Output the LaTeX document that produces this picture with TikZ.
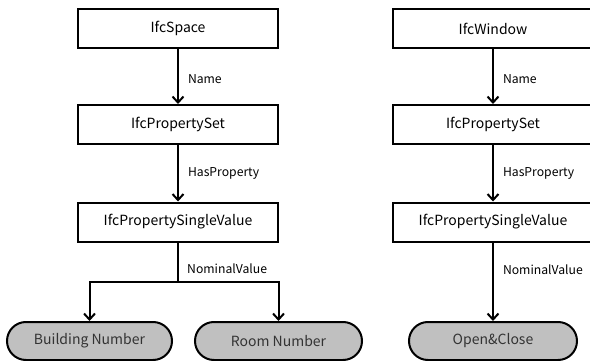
\documentclass[tikz,border=0pt]{standalone}
\usepackage{fontspec}
\setmainfont{Noto Sans CJK KR}
\usetikzlibrary{arrows.meta}
\definecolor{ovalgray}{RGB}{192,192,192}
\begin{document}
\begin{tikzpicture}[x=1pt,y=-1pt,
  ent/.style={draw,line width=2pt,minimum width=200pt,minimum height=39pt,inner sep=0pt,font=\fontsize{14}{16}\selectfont},
  val/.style={draw,line width=2pt,fill=ovalgray,rounded corners=19pt,minimum height=38pt,inner sep=0pt,text=black!80,font=\fontsize{14}{16}\selectfont},
  arr/.style={line width=2pt,-{Straight Barb[length=6pt,width=11pt,line width=2pt]}},
  lab/.style={anchor=west,inner sep=0pt,font=\fontsize{12.2}{14}\selectfont}]
\useasboundingbox (0,0) rectangle (590,361);
\clip (0,0) rectangle (590,361);
\node[ent] (sp) at (178,28.5) {IfcSpace};
\node[ent] (ps1) at (178,124.5) {IfcPropertySet};
\node[ent] (sv1) at (178,222) {IfcPropertySingleValue};
\node[val,minimum width=165pt] (bn) at (89.5,341) {Building Number};
\node[val,minimum width=167pt] (rn) at (278.5,341) {Room Number};
\coordinate (fork) at (178,282);
\draw[arr] (sp) -- node[lab,pos=.55,right=9pt] {Name} (ps1);
\draw[arr] (ps1) -- node[lab,right=9pt] {HasProperty} (sv1);
\draw[line width=2pt] (sv1) -- (fork);
\draw[arr] (fork) -| (bn);
\draw[arr] (fork) -| (rn);
\node[lab] at (187,269) {NominalValue};
\node[ent] (win) at (493,28.5) {IfcWindow};
\node[ent] (ps2) at (493,124.5) {IfcPropertySet};
\node[ent] (sv2) at (493,222) {IfcPropertySingleValue};
\node[val,minimum width=168pt] (oc) at (493,341) {Open\&Close};
\draw[arr] (win) -- node[lab,pos=.55,right=9pt] {Name} (ps2);
\draw[arr] (ps2) -- node[lab,right=9pt] {HasProperty} (sv2);
\draw[arr] (sv2) -- node[lab,pos=.35,right=9pt] {NominalValue} (oc);
\end{tikzpicture}
\end{document}
